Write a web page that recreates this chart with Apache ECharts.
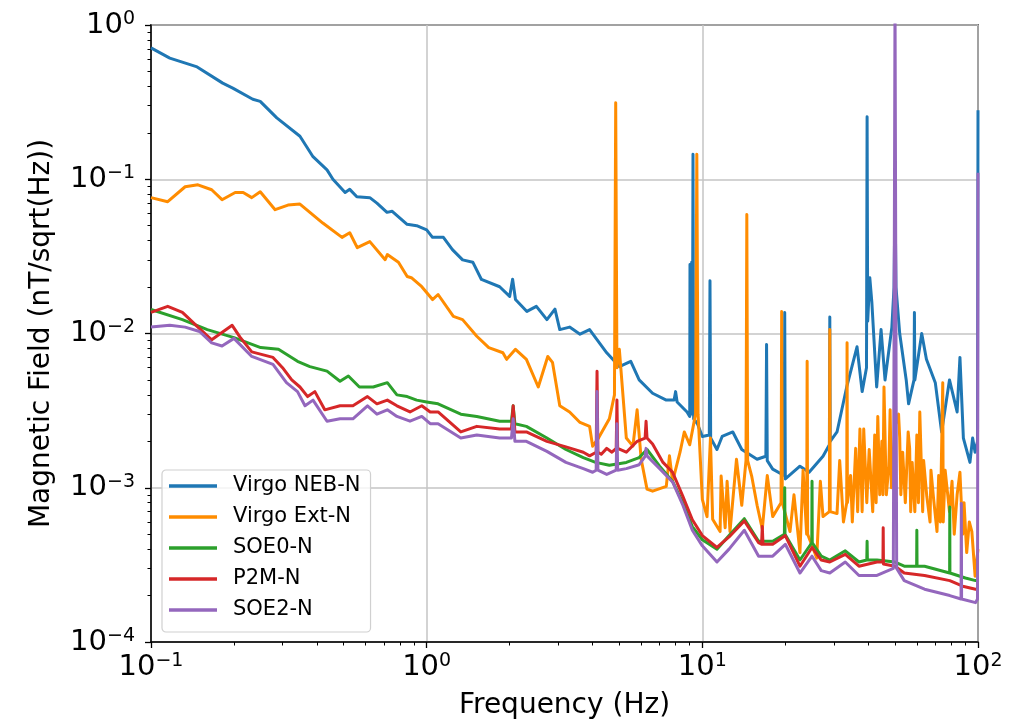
<!DOCTYPE html>
<html>
<head>
<meta charset="utf-8">
<script src="https://cdn.jsdelivr.net/npm/echarts@6/dist/echarts.min.js"></script>
<style>
  html, body { margin: 0; padding: 0; background: #fff; }
  #chart { width: 1019px; height: 725px; }
</style>
</head>
<body>
<div id="chart"></div>
<script>
// series names (legend order)
const seriesNames = ['Virgo NEB-N', 'Virgo Ext-N', 'SOE0-N', 'P2M-N', 'SOE2-N']

// [frequency Hz, amplitude nT/sqrt(Hz)]
const virgoNeb = [
  [0.1, 0.71], [0.117, 0.61], [0.147, 0.535], [0.182, 0.42], [0.198, 0.39], [0.234, 0.33], [0.249, 0.32],
  [0.286, 0.25], [0.347, 0.19], [0.387, 0.14], [0.435, 0.115], [0.457, 0.1], [0.506, 0.082], [0.526, 0.086],
  [0.558, 0.077], [0.622, 0.076], [0.66, 0.07], [0.718, 0.061], [0.75, 0.062], [0.849, 0.051], [0.92, 0.05],
  [1.0, 0.047], [1.05, 0.042], [1.15, 0.042], [1.24, 0.035], [1.35, 0.030], [1.47, 0.029], [1.58, 0.0224],
  [1.84, 0.0201], [2.0, 0.0174], [2.05, 0.0225], [2.1, 0.0166], [2.31, 0.0139], [2.5, 0.015], [2.73, 0.0123],
  [2.92, 0.0144], [3.04, 0.0106], [3.3, 0.011], [3.6, 0.0099], [3.9, 0.0106], [4.5, 0.0075], [5.0, 0.0061],
  [5.5, 0.0066], [5.9, 0.005], [6.6, 0.0041], [7.4, 0.0037], [7.9, 0.0037], [8.0, 0.0042], [8.1, 0.0036],
  [8.8, 0.0031], [9.0, 0.0029], [9.02, 0.028], [9.1, 0.003], [9.15, 0.029], [9.2, 0.003], [9.25, 0.145],
  [9.3, 0.0028], [9.6, 0.0026], [10, 0.00215], [10.6, 0.0022], [10.66, 0.022], [10.72, 0.0021],
  [11.3, 0.00177], [11.8, 0.00215], [12.9, 0.0023], [13.9, 0.00177], [15.8, 0.00153], [17.0, 0.0016],
  [17.1, 0.0085], [17.2, 0.0015], [18.0, 0.00132], [19.8, 0.0012], [19.9, 0.0137], [20.0, 0.00114],
  [20.3, 0.00114], [22.6, 0.00138], [24.4, 0.00126], [27.4, 0.0016], [28.9, 0.0019], [29.0, 0.0128],
  [29.1, 0.002], [30.8, 0.0023], [33.4, 0.0045], [36.4, 0.0082], [38, 0.0042], [39.4, 0.006], [39.6, 0.254],
  [39.8, 0.012], [40.5, 0.023], [41.2, 0.016], [42.9, 0.0045], [44.5, 0.0106], [46, 0.005], [48.7, 0.011],
  [49.6, 0.02], [50, 0.082], [50.4, 0.02], [52, 0.01], [54.9, 0.005], [56, 0.0035], [58.6, 0.005],
  [58.8, 0.0137], [59.0, 0.005], [62.5, 0.01], [65, 0.0068], [70, 0.0048], [73.8, 0.0023], [78.8, 0.005],
  [84, 0.0031], [86, 0.007], [88.5, 0.0021], [93.5, 0.00146], [95.6, 0.0021], [97.6, 0.0017], [99.6, 0.002],
  [100, 0.28]
]

const virgoExt = [
  [0.1, 0.076], [0.115, 0.0715], [0.133, 0.0894], [0.148, 0.092], [0.166, 0.0855], [0.181, 0.0737],
  [0.202, 0.082], [0.216, 0.082], [0.232, 0.076], [0.249, 0.083], [0.282, 0.0635], [0.314, 0.068],
  [0.347, 0.069], [0.377, 0.061], [0.42, 0.052], [0.493, 0.042], [0.526, 0.045], [0.56, 0.036],
  [0.622, 0.0394], [0.707, 0.0301], [0.72, 0.0325], [0.79, 0.029], [0.85, 0.0234], [0.88, 0.023],
  [0.96, 0.0201], [1.05, 0.0166], [1.1, 0.0179], [1.25, 0.0129], [1.35, 0.0123], [1.52, 0.0096],
  [1.68, 0.0081], [1.89, 0.0075], [1.95, 0.0068], [2.1, 0.0079], [2.3, 0.0068], [2.54, 0.0045],
  [2.75, 0.0071], [2.86, 0.0065], [3.04, 0.0034], [3.3, 0.0031], [3.6, 0.00265], [3.9, 0.0025],
  [4.0, 0.00186], [4.2, 0.0021], [4.6, 0.0028], [4.8, 0.004], [4.85, 0.313], [4.9, 0.006], [5.0, 0.0079],
  [5.3, 0.0021], [5.6, 0.00186], [5.8, 0.0032], [6.0, 0.00153], [6.3, 0.00098], [6.6, 0.00095],
  [7.4, 0.00102], [7.6, 0.00161], [7.8, 0.0011], [8.3, 0.0017], [8.6, 0.0023], [9.0, 0.0019], [9.45, 0.003],
  [9.55, 0.145], [9.65, 0.003], [10, 0.00084], [10.4, 0.00065], [10.7, 0.0021], [10.9, 0.000625],
  [11.6, 0.00052], [11.7, 0.00119], [12.1, 0.00055], [12.3, 0.0011], [12.6, 0.00052], [13.3, 0.00153],
  [13.9, 0.00077], [14.4, 0.0015], [14.5, 0.059], [14.6, 0.0015], [15.1, 0.00119], [15.8, 0.00077],
  [16.5, 0.00054], [17.2, 0.0012], [18, 0.00065], [19.3, 0.0008], [19.4, 0.0139], [19.5, 0.0008],
  [20.8, 0.00052], [21.5, 0.0009], [22.6, 0.00038], [23.2, 0.0013], [23.9, 0.0005], [24, 0.0066],
  [24.1, 0.0005], [26, 0.00035], [26.8, 0.0011], [27.4, 0.00065], [28.9, 0.0007], [29, 0.0106],
  [29.1, 0.0007], [30.8, 0.00068], [31.5, 0.0015], [32.5, 0.0006], [33.4, 0.0008], [33.5, 0.0087],
  [33.6, 0.0008], [34.5, 0.0012], [35, 0.0006], [36, 0.0018], [36.6, 0.0007], [37.3, 0.0024],
  [38, 0.0007], [38.5, 0.0024], [39.5, 0.0008], [40.3, 0.00177], [41.5, 0.0007], [42.2, 0.0022],
  [42.7, 0.0008], [43.3, 0.0029], [44, 0.0009], [44.8, 0.002], [45.2, 0.0009], [45.6, 0.0045],
  [46.5, 0.0009], [47.5, 0.00138], [48, 0.0032], [48.5, 0.001], [50, 0.0025], [51.5, 0.003],
  [52, 0.0021], [52.5, 0.0009], [53.3, 0.0017], [54.5, 0.0008], [55.8, 0.0023], [56.5, 0.0018],
  [57, 0.0007], [57.7, 0.00146], [59, 0.0007], [60, 0.0022], [60.8, 0.0008], [61.5, 0.0031], [63, 0.0007],
  [63.5, 0.0015], [65.2, 0.00088], [67, 0.0006], [67.5, 0.0013], [69, 0.00085], [71, 0.00052],
  [72, 0.0012], [73, 0.0006], [74.2, 0.0006], [74.5, 0.0048], [74.8, 0.0006], [76, 0.0013],
  [78.8, 0.0007], [80.5, 0.0011], [82, 0.0005], [84, 0.0009], [86, 0.00126], [88, 0.0005], [89, 0.0008],
  [91, 0.00038], [93, 0.0006], [95, 0.00052], [97.6, 0.000267], [100, 0.0004]
]

const soe0 = [
  [0.1, 0.0143], [0.13, 0.0123], [0.16, 0.0106], [0.2, 0.0094], [0.25, 0.0081], [0.29, 0.0079],
  [0.34, 0.0066], [0.377, 0.0061], [0.435, 0.0057], [0.485, 0.0049], [0.52, 0.0053], [0.57, 0.0045],
  [0.64, 0.0045], [0.72, 0.0048], [0.78, 0.004], [0.85, 0.0039], [0.92, 0.0037], [1.0, 0.0036],
  [1.1, 0.0035], [1.33, 0.003], [1.52, 0.0029], [1.84, 0.0027], [2.03, 0.0027], [2.06, 0.0034],
  [2.09, 0.0026], [2.3, 0.0025], [2.73, 0.0021], [3.2, 0.00177], [3.7, 0.00157], [4.1, 0.00146],
  [4.6, 0.0014], [5.3, 0.00146], [5.9, 0.00157], [6.3, 0.00177], [7.0, 0.00138], [7.8, 0.0011],
  [8.5, 0.0008], [9.2, 0.00056], [10, 0.00046], [11.3, 0.0004], [12.5, 0.00049], [14.2, 0.00063],
  [16, 0.00045], [18, 0.00045], [19.85, 0.0005], [19.9, 0.001], [19.95, 0.0005], [22.6, 0.00034],
  [24.95, 0.00044], [25, 0.0011], [25.05, 0.00044], [27, 0.00036], [29, 0.00034], [33, 0.00039],
  [37, 0.00033], [39.5, 0.00034], [39.6, 0.00045], [39.7, 0.00034], [43, 0.00034], [50, 0.00033],
  [54, 0.00031], [59.9, 0.00031], [60, 0.00053], [60.1, 0.00031], [64, 0.00031], [78.9, 0.00028],
  [79, 0.00075], [79.1, 0.00028], [90, 0.00026], [98, 0.00025], [100, 0.00025]
]

const p2m = [
  [0.1, 0.0137], [0.115, 0.015], [0.13, 0.0137], [0.148, 0.011], [0.166, 0.0091], [0.197, 0.0113],
  [0.21, 0.0095], [0.232, 0.0076], [0.277, 0.007], [0.3, 0.006], [0.324, 0.005], [0.347, 0.0045],
  [0.37, 0.0039], [0.393, 0.0042], [0.427, 0.0032], [0.485, 0.0034], [0.54, 0.0034], [0.61, 0.0039],
  [0.66, 0.0035], [0.72, 0.0037], [0.78, 0.0034], [0.87, 0.0031], [0.96, 0.0034], [1.03, 0.0031],
  [1.1, 0.0031], [1.33, 0.0023], [1.52, 0.0025], [1.84, 0.0024], [2.03, 0.0024], [2.06, 0.0034],
  [2.09, 0.0023], [2.3, 0.0023], [2.73, 0.002], [3.2, 0.00184], [3.7, 0.0017], [3.9, 0.00161],
  [4.12, 0.0017], [4.15, 0.0057], [4.18, 0.0017], [4.3, 0.00165], [4.5, 0.0018], [4.7, 0.0017],
  [4.87, 0.0018], [4.9, 0.0037], [4.93, 0.0018], [5.3, 0.0017], [5.8, 0.002], [6.2, 0.0021],
  [6.25, 0.0027], [6.3, 0.0021], [6.6, 0.00192], [7.2, 0.00146], [7.8, 0.00126], [8.5, 0.00088],
  [9.2, 0.00062], [10, 0.00049], [11.3, 0.00041], [12.5, 0.00048], [14.2, 0.00061], [16, 0.00044],
  [16.4, 0.00043], [16.5, 0.00056], [16.6, 0.00043], [18, 0.00043], [20.0, 0.00049], [22.6, 0.00031],
  [25, 0.00041], [27, 0.00034], [29, 0.00033], [33, 0.00037], [37, 0.00031], [43, 0.00033],
  [45.2, 0.00033], [45.3, 0.00055], [45.4, 0.00032], [50, 0.00031], [54, 0.00028], [64, 0.00027],
  [79, 0.00025], [88, 0.00023], [98, 0.00022], [100, 0.00022]
]

const soe2 = [
  [0.1, 0.011], [0.117, 0.0113], [0.133, 0.011], [0.15, 0.0103], [0.166, 0.0087], [0.181, 0.0083],
  [0.2, 0.0093], [0.232, 0.0071], [0.277, 0.0063], [0.31, 0.0048], [0.34, 0.0042], [0.362, 0.0034],
  [0.387, 0.0037], [0.435, 0.0027], [0.485, 0.0028], [0.54, 0.0028], [0.61, 0.0034], [0.66, 0.003],
  [0.72, 0.0032], [0.78, 0.0029], [0.87, 0.0027], [0.96, 0.0029], [1.03, 0.0026], [1.1, 0.0026],
  [1.33, 0.0021], [1.52, 0.0022], [1.84, 0.0021], [2.03, 0.0021], [2.06, 0.0028], [2.09, 0.002],
  [2.3, 0.002], [2.73, 0.00172], [3.2, 0.00146], [3.7, 0.00133], [4.0, 0.00126], [4.12, 0.0013],
  [4.15, 0.0042], [4.18, 0.0013], [4.5, 0.00122], [4.87, 0.0013], [4.9, 0.0026], [4.93, 0.0013],
  [5.3, 0.00133], [5.9, 0.00141], [6.2, 0.0016], [6.25, 0.0018], [6.3, 0.00161], [7.0, 0.00133],
  [7.8, 0.00109], [8.5, 0.00077], [9.2, 0.00053], [10, 0.00042], [11.3, 0.00033], [12.5, 0.0004],
  [14.2, 0.00053], [16, 0.00036], [18, 0.00036], [20, 0.00043], [22.6, 0.00028], [25, 0.00036],
  [27, 0.00029], [29, 0.00028], [33, 0.00033], [37, 0.00027], [43, 0.00027], [49.3, 0.0003],
  [49.6, 0.01], [50, 1.5], [50.4, 0.01], [50.7, 0.0003], [54, 0.00025], [64, 0.00022], [79, 0.0002],
  [86.8, 0.00019], [87, 0.00079], [87.2, 0.00019], [98, 0.00018], [99.6, 0.00019], [100, 0.11]
]

const seriesColors = ['#1f77b4', '#ff8c00', '#2ca02c', '#d62728', '#9467bd']

// axis ticks
const xMajorTicks = [0.1, 1, 10, 100]
const xMinorTicks = [0.2, 0.3, 0.4, 0.5, 0.6, 0.7, 0.8, 0.9, 2, 3, 4, 5, 6, 7, 8, 9, 20, 30, 40, 50, 60, 70, 80, 90]
const yMajorTicks = [0.0001, 0.001, 0.01, 0.1, 1]
const yMinorTicks = [
  0.0002, 0.0003, 0.0004, 0.0005, 0.0006, 0.0007, 0.0008, 0.0009,
  0.002, 0.003, 0.004, 0.005, 0.006, 0.007, 0.008, 0.009,
  0.02, 0.03, 0.04, 0.05, 0.06, 0.07, 0.08, 0.09,
  0.2, 0.3, 0.4, 0.5, 0.6, 0.7, 0.8, 0.9
]

const FONT = 'DejaVu Sans'

const powLabel = (v) => {
  const e = Math.round(Math.log10(v))
  return '{b|10}{s|' + (e < 0 ? '\u2212' + (-e) : e) + '}'
}

const labelRich = {
  b: { fontSize: 29, fontFamily: FONT, color: '#000' },
  s: { fontSize: 19, fontFamily: FONT, color: '#000', padding: [0, 0, 12, 0] }
}

const chart = echarts.init(document.getElementById('chart'), null, { renderer: 'canvas' })

const data = [virgoNeb, virgoExt, soe0, p2m, soe2]

const option = {
  animation: false,
  backgroundColor: '#fff',
  grid: {
    left: 151, right: 41, top: 25, bottom: 82,
    show: true, borderColor: '#000', borderWidth: 1.5, backgroundColor: 'transparent'
  },
  legend: {
    orient: 'vertical',
    left: 162, top: 470,
    padding: [5, 10, 11, 7],
    itemGap: 9,
    itemWidth: 48,
    itemHeight: 3.5,
    icon: 'rect',
    backgroundColor: 'rgba(255,255,255,0.8)',
    borderColor: '#d0d0d0',
    borderWidth: 1.2,
    borderRadius: 4,
    textStyle: { fontFamily: FONT, fontSize: 21, color: '#000', lineHeight: 22, padding: [0, 0, 0, 11] },
    data: seriesNames
  },
  xAxis: [
    {
      type: 'log', logBase: 10, min: 0.1, max: 100,
      name: 'Frequency (Hz)', nameLocation: 'middle', nameGap: 50, nameMoveOverlap: false,
      nameTextStyle: { fontFamily: FONT, fontSize: 28, color: '#000' },
      axisLine: { show: true, lineStyle: { color: '#000', width: 1.5 } },
      axisTick: { show: true, inside: false, length: 6, customValues: xMajorTicks, lineStyle: { color: '#000', width: 1.3 } },
      axisLabel: { customValues: xMajorTicks, margin: 10, formatter: powLabel, rich: labelRich, showMinLabel: true, showMaxLabel: true, hideOverlap: false },
      splitLine: { show: true, lineStyle: { color: '#c4c4c4', width: 1.5 } }
    },
    {
      type: 'log', logBase: 10, min: 0.1, max: 100, position: 'bottom',
      axisLine: { show: false },
      axisTick: { show: true, inside: false, length: 3.5, customValues: xMinorTicks, lineStyle: { color: '#000', width: 1 } },
      axisLabel: { show: false },
      splitLine: { show: false }
    }
  ],
  yAxis: [
    {
      type: 'log', logBase: 10, min: 0.0001, max: 1,
      name: 'Magnetic Field (nT/sqrt(Hz))', nameLocation: 'middle', nameGap: 95, nameMoveOverlap: false,
      nameTextStyle: { fontFamily: FONT, fontSize: 28, color: '#000' },
      axisLine: { show: true, lineStyle: { color: '#000', width: 1.5 } },
      axisTick: { show: true, inside: false, length: 6, customValues: yMajorTicks, lineStyle: { color: '#000', width: 1.3 } },
      axisLabel: { customValues: yMajorTicks, margin: 16, formatter: powLabel, rich: labelRich, showMinLabel: true, showMaxLabel: true, hideOverlap: false },
      splitLine: { show: true, lineStyle: { color: '#c4c4c4', width: 1.5 } }
    },
    {
      type: 'log', logBase: 10, min: 0.0001, max: 1, position: 'left',
      axisLine: { show: false },
      axisTick: { show: true, inside: false, length: 3.5, customValues: yMinorTicks, lineStyle: { color: '#000', width: 1 } },
      axisLabel: { show: false },
      splitLine: { show: false }
    }
  ],
  series: seriesNames.map((name, i) => ({
    name,
    type: 'line',
    data: data[i],
    xAxisIndex: 0,
    yAxisIndex: 0,
    showSymbol: false,
    symbol: 'none',
    clip: true,
    color: seriesColors[i],
    lineStyle: { width: 3, color: seriesColors[i], join: 'round' },
    z: 2 + i * 0.01
  }))
}

chart.setOption(option)
</script>
</body>
</html>
